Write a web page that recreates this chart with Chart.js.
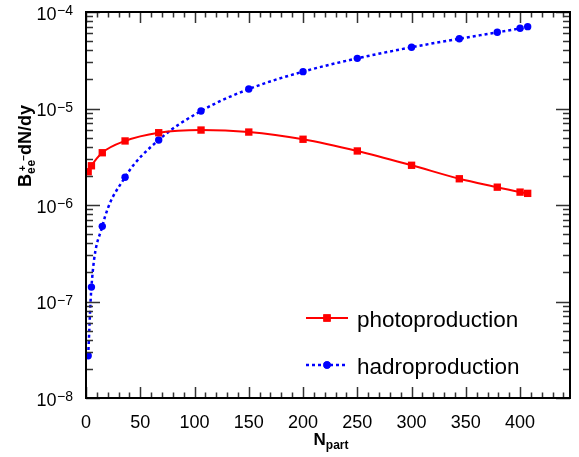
<!DOCTYPE html>
<html>
<head>
<meta charset="utf-8">
<script src="https://cdn.jsdelivr.net/npm/chart.js@4.4.0/dist/chart.umd.min.js"></script>
<style>
html,body{margin:0;padding:0;background:#fff;}
#wrap{width:579px;height:457px;position:relative;}
</style>
</head>
<body>
<div id="wrap"><canvas id="c" width="579" height="457"></canvas></div>
<script>
const nPart = [2, 5, 15, 36, 67, 106, 150, 200, 250, 300, 344, 379, 400, 407];
const photoValues = [2.21e-6, 2.55e-6, 3.48e-6, 4.61e-6, 5.61e-6, 5.98e-6, 5.70e-6, 4.80e-6, 3.63e-6, 2.58e-6, 1.87e-6, 1.53e-6, 1.36e-6, 1.32e-6];
const hadroValues = [2.74e-8, 1.41e-7, 6.01e-7, 1.94e-6, 4.72e-6, 9.42e-6, 1.59e-5, 2.41e-5, 3.31e-5, 4.31e-5, 5.29e-5, 6.16e-5, 6.78e-5, 7.05e-5];
const xTickLabels = [0, 50, 100, 150, 200, 250, 300, 350, 400];
const yTickExponents = [-8, -7, -6, -5, -4];
const seriesNames = ['photoproduction', 'hadroproduction'];

const FONT = '"Liberation Sans", Arial, Helvetica, sans-serif';

const framePlugin = {
  id: 'rootFrame',
  afterDatasetsDraw(chart) {
    const ctx = chart.ctx;
    const xs = chart.scales.x, ys = chart.scales.y;
    const a = chart.chartArea;
    ctx.save();
    // ticks
    ctx.strokeStyle = '#333';
    ctx.lineWidth = 1.5;
    ctx.beginPath();
    for (let v = 0; v <= xs.max + 0.001; v += 10) {
      const px = Math.round(xs.getPixelForValue(v)) + 0.5;
      const len = (v % 50 === 0) ? 11 : 5.5;
      ctx.moveTo(px, a.bottom); ctx.lineTo(px, a.bottom - len);
      ctx.moveTo(px, a.top); ctx.lineTo(px, a.top + len);
    }
    for (let e = yTickExponents[0]; e <= yTickExponents[yTickExponents.length - 1]; e++) {
      for (let m = 1; m <= 9; m++) {
        const v = m * Math.pow(10, e);
        if (v > ys.max * 1.0001) break;
        const py = Math.round(ys.getPixelForValue(v)) + 0.5;
        const len = (m === 1) ? 14 : 7;
        ctx.moveTo(a.left, py); ctx.lineTo(a.left + len, py);
        ctx.moveTo(a.right, py); ctx.lineTo(a.right - len, py);
      }
    }
    ctx.stroke();
    // frame
    ctx.strokeStyle = '#000';
    ctx.lineWidth = 2;
    ctx.strokeRect(a.left, a.top, a.right - a.left, a.bottom - a.top);

    ctx.fillStyle = '#000';
    // x tick labels
    ctx.font = '18px ' + FONT;
    ctx.textAlign = 'center';
    ctx.textBaseline = 'alphabetic';
    xTickLabels.forEach(v => {
      ctx.fillText(String(v), xs.getPixelForValue(v), a.bottom + 30);
    });
    // y tick labels
    yTickExponents.forEach(e => {
      const py = ys.getPixelForValue(Math.pow(10, e));
      const sup = '\u2212' + Math.abs(e);
      ctx.font = '14px ' + FONT;
      const wSup = ctx.measureText(sup).width;
      ctx.textAlign = 'left';
      const right = a.left - 13;
      ctx.fillText(sup, right - wSup, py + 3);
      ctx.font = '18px ' + FONT;
      const w10 = ctx.measureText('10').width;
      ctx.fillText('10', right - wSup - w10 - 0.5, py + 7.5);
    });

    // x title
    const xParts = [
      {t: 'N', f: 'bold 17px ' + FONT, dy: 0},
      {t: 'part', f: 'bold 12px ' + FONT, dy: 4}
    ];
    drawParts(ctx, xParts, 331, 445);

    // y title (rotated)
    const yParts = [
      {t: 'B', f: 'bold 18px ' + FONT, dy: 0},
      {t: 'e', f: 'bold 12px ' + FONT, dy: 4},
      {t: '+', f: 'bold 10px ' + FONT, dy: -5, back: 4},
      {t: 'e', f: 'bold 12px ' + FONT, dy: 4, back: 1},
      {t: '\u2212', f: 'bold 10px ' + FONT, dy: -4, back: 1},
      {t: 'dN/dy', f: 'bold 18px ' + FONT, dy: 0}
    ];
    ctx.save();
    ctx.translate(31, 146);
    ctx.rotate(-Math.PI / 2);
    drawParts(ctx, yParts, 0, 0);
    ctx.restore();

    // legend
    drawLegend(ctx, 0, 318, 326.5, '#ff0000', [], 'rect', 5.2);
    drawLegend(ctx, 1, 365, 373.5, '#0000ff', [3, 3], 'circle', 3.7);
    ctx.restore();
  }
};

function drawParts(ctx, parts, cx, baseY) {
  let total = 0;
  parts.forEach(p => { ctx.font = p.f; p.w = ctx.measureText(p.t).width; total += p.w - (p.back || 0); });
  let x = cx - total / 2;
  ctx.textAlign = 'left';
  ctx.textBaseline = 'alphabetic';
  parts.forEach(p => {
    ctx.font = p.f;
    x -= (p.back || 0);
    ctx.fillText(p.t, x, baseY + p.dy);
    x += p.w;
  });
}

function drawLegend(ctx, i, y, baseY, color, dash, style, r) {
  ctx.save();
  ctx.strokeStyle = color;
  ctx.fillStyle = color;
  ctx.lineWidth = i === 0 ? 2 : 2.5;
  ctx.setLineDash(dash);
  ctx.beginPath();
  ctx.moveTo(306, y); ctx.lineTo(348, y);
  ctx.stroke();
  ctx.setLineDash([]);
  Chart.helpers.drawPoint(ctx, {pointStyle: style, radius: r, rotation: 0, borderWidth: 0}, 327, y);
  ctx.fill();
  ctx.fillStyle = '#000';
  ctx.font = '22.5px ' + FONT;
  ctx.textAlign = 'left';
  ctx.textBaseline = 'alphabetic';
  ctx.fillText(seriesNames[i], 357, baseY);
  ctx.restore();
}

const ctxEl = document.getElementById('c');
new Chart(ctxEl, {
  type: 'line',
  data: {
    datasets: [
      {
        label: seriesNames[0],
        data: nPart.map((x, i) => ({x: x, y: photoValues[i]})),
        borderColor: '#ff0000',
        backgroundColor: '#ff0000',
        borderWidth: 2,
        pointStyle: 'rect',
        pointRadius: 5.2,
        pointBorderWidth: 0,
        cubicInterpolationMode: 'monotone',
        fill: false
      },
      {
        label: seriesNames[1],
        data: nPart.map((x, i) => ({x: x, y: hadroValues[i]})),
        borderColor: '#0000ff',
        backgroundColor: '#0000ff',
        borderWidth: 2.5,
        borderDash: [3, 3],
        pointStyle: 'circle',
        pointRadius: 3.7,
        pointBorderWidth: 0,
        cubicInterpolationMode: 'monotone',
        fill: false
      }
    ]
  },
  options: {
    responsive: false,
    animation: false,
    devicePixelRatio: 1,
    layout: {padding: {left: 86, right: 9, top: 12, bottom: 59}},
    plugins: {legend: {display: false}, tooltip: {enabled: false}, title: {display: false}},
    scales: {
      x: {
        type: 'linear', min: 0, max: 446, display: false
      },
      y: {
        type: 'logarithmic', min: 1e-8, max: 1e-4, display: false
      }
    }
  },
  plugins: [framePlugin]
});
</script>
</body>
</html>
